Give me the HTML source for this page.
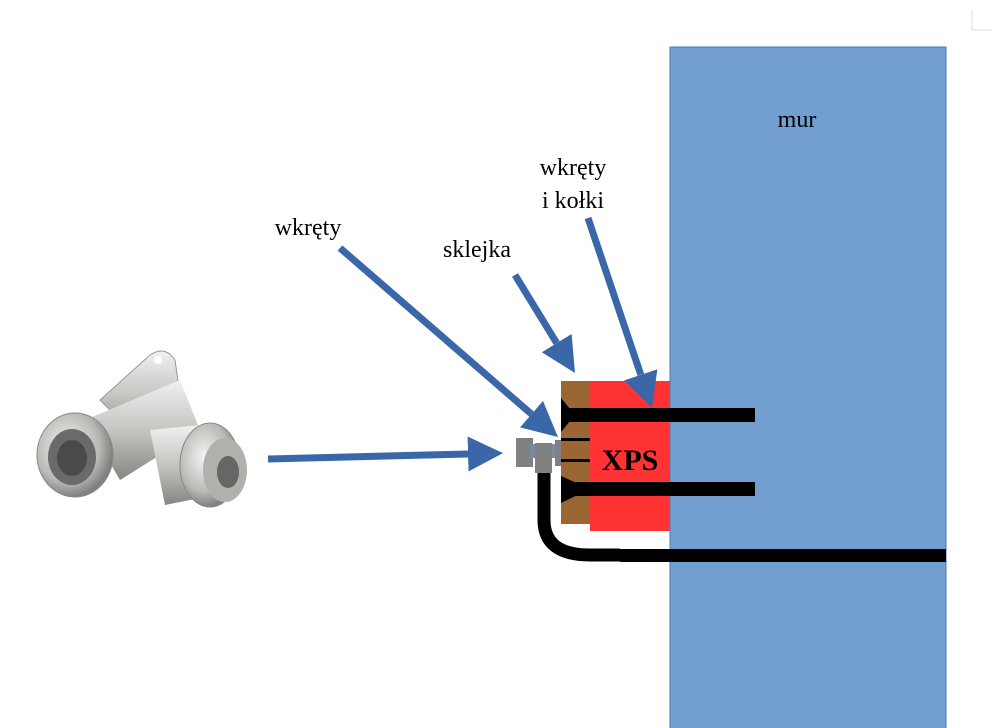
<!DOCTYPE html>
<html><head><meta charset="utf-8"><style>
html,body{margin:0;padding:0;background:#fff;}
svg{display:block;}
text{font-family:"Liberation Serif",serif;}
</style></head><body>
<svg width="1000" height="728" viewBox="0 0 1000 728" xmlns="http://www.w3.org/2000/svg">
<defs>
<marker id="ah" viewBox="0 0 5 5" refX="0" refY="2.5" markerWidth="5" markerHeight="5" orient="auto">
<path d="M0,0 L5,2.5 L0,5 z" fill="#3a67a8"/></marker>
<linearGradient id="met" x1="0" y1="0" x2="0" y2="1">
<stop offset="0" stop-color="#f0f0ee"/><stop offset="0.5" stop-color="#c5c5c2"/><stop offset="1" stop-color="#858582"/></linearGradient>
<radialGradient id="met2" cx="0.4" cy="0.4" r="0.6">
<stop offset="0" stop-color="#f4f4f2"/><stop offset="0.7" stop-color="#b9b9b6"/><stop offset="1" stop-color="#808080"/></radialGradient>
</defs>
<path d="M972,10 L972,30 L992,30" fill="none" stroke="#ddd" stroke-width="1"/>
<rect x="670" y="47" width="276" height="690" fill="#729fcf" stroke="#4a78b0" stroke-width="1"/>
<text x="797" y="127" font-size="24" text-anchor="middle" fill="#000">mur</text>
<rect x="590" y="381" width="80" height="150" fill="#ff3333"/>
<rect x="561" y="381" width="29" height="143" fill="#9a6633"/>
<rect x="561" y="408" width="194" height="14" fill="#000"/>
<rect x="561" y="482" width="194" height="14" fill="#000"/>
<polygon points="561,398 575,415 561,432" fill="#000"/>
<polygon points="561,476 590,489 561,503" fill="#000"/>
<rect x="561" y="438" width="29" height="3" fill="#000"/>
<rect x="561" y="459" width="29" height="3" fill="#000"/>
<text x="630" y="470" font-size="30" font-weight="bold" text-anchor="middle" fill="#000">XPS</text>
<path d="M544,470 L544,520 Q544,555 590,555 L620,555" fill="none" stroke="#000" stroke-width="13"/>
<rect x="620" y="549" width="326" height="13" fill="#000"/>
<rect x="516" y="438" width="17" height="29" fill="#808080"/>
<rect x="530" y="444" width="31" height="14" fill="#7a8aa0"/>
<rect x="535" y="443" width="17" height="30" fill="#808080"/>
<rect x="555" y="440" width="6" height="26" fill="#808080"/>
<g stroke="#3a67a8" stroke-width="7" fill="none">
<line x1="268" y1="459" x2="468" y2="454" marker-end="url(#ah)"/>
<line x1="340" y1="248" x2="531.5" y2="414.1" marker-end="url(#ah)"/>
<line x1="515" y1="275" x2="556.7" y2="343.1" marker-end="url(#ah)"/>
<line x1="588" y1="218" x2="640.8" y2="374.8" marker-end="url(#ah)"/>
</g>
<text x="308" y="235" font-size="24" text-anchor="middle" fill="#000">wkręty</text>
<text x="477" y="257" font-size="24" text-anchor="middle" fill="#000">sklejka</text>
<text x="573" y="175" font-size="24" text-anchor="middle" fill="#000">wkręty</text>
<text x="573" y="208" font-size="24" text-anchor="middle" fill="#000">i kołki</text>
<g>
<path d="M100,400 L150,355 Q165,345 175,360 L185,430 L140,440 Z" fill="url(#met)" stroke="#999" stroke-width="1"/>
<path d="M85,420 L180,380 L200,430 L120,480 Z" fill="url(#met)"/>
<ellipse cx="75" cy="455" rx="38" ry="42" fill="url(#met2)" stroke="#888"/>
<ellipse cx="72" cy="457" rx="24" ry="28" fill="#6a6a68"/>
<ellipse cx="72" cy="458" rx="15" ry="18" fill="#4a4a48"/>
<path d="M150,430 L200,425 L215,495 L165,505 Z" fill="url(#met)"/>
<ellipse cx="210" cy="465" rx="30" ry="42" fill="url(#met2)" stroke="#888"/>
<ellipse cx="225" cy="470" rx="22" ry="32" fill="#b0b0ad"/>
<ellipse cx="228" cy="472" rx="11" ry="16" fill="#666"/>
<circle cx="112" cy="380" r="4" fill="#fff"/>
<circle cx="158" cy="360" r="4" fill="#fff"/>
</g>
</svg>
</body></html>
